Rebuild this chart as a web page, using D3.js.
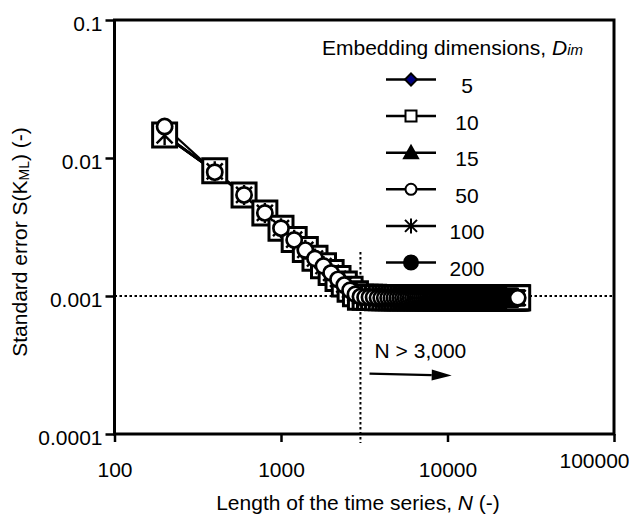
<!DOCTYPE html>
<html>
<head>
<meta charset="utf-8">
<script src="https://cdn.jsdelivr.net/npm/d3@7"></script>
<style>
body { margin: 0; background: #fff; }
svg text { font-family: Arial, "Liberation Sans", sans-serif; fill: #000; }
</style>
</head>
<body>
<svg id="chart" width="629" height="517"></svg>
<script>
// embedding dimensions (legend order)
let dims = ["5", "10", "15", "50", "100", "200"];

// time series lengths, falling part
let headN = [200, 400, 600, 800, 1000, 1200, 1400, 1600, 1800, 2000, 2200, 2400, 2600, 2800, 3000];

// standard error per dimension on the falling part
let s5   = [0.0146, 0.0080, 0.0054, 0.0040, 0.0031, 0.00256, 0.00216, 0.00187, 0.00165, 0.00147, 0.00133, 0.00121, 0.00111, 0.00104, 0.00099];
let s10  = [0.0147, 0.0081, 0.0054, 0.0040, 0.0031, 0.00257, 0.00217, 0.00188, 0.00166, 0.00148, 0.00134, 0.00122, 0.00112, 0.00104, 0.00098];
let s15  = [0.0145, 0.0080, 0.0053, 0.0040, 0.0031, 0.00255, 0.00216, 0.00187, 0.00165, 0.00147, 0.00133, 0.00121, 0.00111, 0.00103, 0.00099];
let s50  = [0.0169, 0.0079, 0.0054, 0.0040, 0.0031, 0.00255, 0.00215, 0.00187, 0.00165, 0.00147, 0.00132, 0.00120, 0.00110, 0.00103, 0.00099];
let s100 = [0.0146, 0.0080, 0.0054, 0.0040, 0.0031, 0.00256, 0.00216, 0.00187, 0.00165, 0.00147, 0.00133, 0.00121, 0.00111, 0.00104, 0.00099];
let s200 = [0.0148, 0.0080, 0.0054, 0.0040, 0.0031, 0.00256, 0.00216, 0.00188, 0.00166, 0.00147, 0.00133, 0.00121, 0.00111, 0.00104, 0.00099];

// plateau part (N > 3,000), same for every dimension
let tailN = [
    3200, 3400, 3600, 3800, 4000, 4200, 4400, 4600, 4800, 5000,
    5200, 5400, 5600, 5800, 6000, 6200, 6400, 6600, 6800, 7000,
    7200, 7400, 7600, 7800, 8000, 8200, 8400, 8600, 8800, 9000,
    9200, 9400, 9600, 9800, 10000, 10200, 10400, 10600, 10800, 11000,
    11200, 11400, 11600, 11800, 12000, 12200, 12400, 12600, 12800, 13000,
    13200, 13400, 13600, 13800, 14000, 14200, 14400, 14600, 14800, 15000,
    15200, 15400, 15600, 15800, 16000, 16200, 16400, 16600, 16800, 17000,
    17200, 17400, 17600, 17800, 18000, 18200, 18400, 18600, 18800, 19000,
    19200, 19400, 19600, 19800, 20000, 20200, 20400, 20600, 20800, 21000,
    21200, 21400, 21600, 21800, 22000, 22200, 22400, 22600, 22800, 23000,
    23200, 23400, 23600, 23800, 24000, 24200, 24400, 24600, 24800, 25000,
    25200, 25400, 25600, 25800, 26000, 26200, 26400
];
let tailS = [
    0.00098, 0.00098, 0.00098, 0.00097, 0.00097, 0.00097, 0.00097, 0.00097, 0.00097, 0.00097,
    0.00097, 0.00097, 0.00097, 0.00097, 0.00097, 0.00097, 0.00097, 0.00097, 0.00097, 0.00097,
    0.00097, 0.00097, 0.00097, 0.00097, 0.00097, 0.00097, 0.00097, 0.00097, 0.00097, 0.00097,
    0.00097, 0.00097, 0.00097, 0.00097, 0.00097, 0.00097, 0.00097, 0.00097, 0.00097, 0.00097,
    0.00097, 0.00097, 0.00097, 0.00097, 0.00097, 0.00097, 0.00097, 0.00097, 0.00097, 0.00097,
    0.00097, 0.00097, 0.00097, 0.00097, 0.00097, 0.00097, 0.00097, 0.00097, 0.00097, 0.00097,
    0.00097, 0.00097, 0.00097, 0.00097, 0.00097, 0.00097, 0.00097, 0.00097, 0.00097, 0.00097,
    0.00097, 0.00097, 0.00097, 0.00097, 0.00097, 0.00097, 0.00097, 0.00097, 0.00097, 0.00097,
    0.00097, 0.00097, 0.00097, 0.00097, 0.00097, 0.00097, 0.00097, 0.00097, 0.00097, 0.00097,
    0.00097, 0.00097, 0.00097, 0.00097, 0.00097, 0.00097, 0.00097, 0.00097, 0.00097, 0.00097,
    0.00097, 0.00097, 0.00097, 0.00097, 0.00097, 0.00097, 0.00097, 0.00097, 0.00097, 0.00097,
    0.00097, 0.00097, 0.00097, 0.00097, 0.00097, 0.00097, 0.00097
];

let xTicks = [100, 1000, 10000, 100000];
let yTicks = [0.0001, 0.001, 0.01, 0.1];

let allN = headN.concat(tailN);
let heads = { "5": s5, "10": s10, "15": s15, "50": s50, "100": s100, "200": s200 };

let series = dims.map(dim => ({
    dim: dim,
    points: heads[dim].concat(tailS).map((s, i) => ({ n: allN[i], s: s }))
}));

// marker look per dimension: plot size, legend size, stroke
let markers = {
    "5":   { shape: "diamond",  fill: "#000080", size: 9,   legend: 6,   sw: 2 },
    "10":  { shape: "square",   fill: "#fff",    size: 12,  legend: 5.5, sw: 3 },
    "15":  { shape: "triangle", fill: "#000",    size: 10,  legend: 7,   sw: 2 },
    "50":  { shape: "circle",   fill: "#fff",    size: 7.6, legend: 5.5, sw: 2.7 },
    "100": { shape: "star",     fill: "none",    size: 8,   legend: 6,   sw: 2.4 },
    "200": { shape: "circle",   fill: "#000",    size: 7.6, legend: 7,   sw: 2 }
};
// order in which marker sets are stacked (last on top)
let drawOrder = ["5", "15", "200", "10", "100", "50"];

let shapePath = (shape, s) => {
    if (shape === "square") return `M${-s},${-s}h${2 * s}v${2 * s}h${-2 * s}Z`;
    if (shape === "diamond") return `M0,${-s}L${s},0L0,${s}L${-s},0Z`;
    if (shape === "triangle") return `M0,${-s}L${s},${s * 0.8}L${-s},${s * 0.8}Z`;
    if (shape === "star") return `M${-s},${-s}L${s},${s}M${s},${-s}L${-s},${s}M0,${-s * 1.25}V${s * 1.25}`;
    // circle
    return `M${-s},0A${s},${s} 0 1,0 ${s},0A${s},${s} 0 1,0 ${-s},0Z`;
};

let svg = d3.select("#chart");

let x = d3.scaleLog().domain([100, 100000]).range([114.5, 614]);
let y = d3.scaleLog().domain([0.0001, 0.1]).range([434, 20]);

// axes
let xAxis = svg.append("g")
    .attr("transform", "translate(0,434)")
    .call(d3.axisBottom(x).tickValues(xTicks).tickFormat(d3.format("d"))
        .tickSizeInner(8).tickSizeOuter(0).tickPadding(20));

let yAxis = svg.append("g")
    .attr("transform", "translate(114.5,0)")
    .call(d3.axisLeft(y).tickValues(yTicks).tickFormat(d => String(d))
        .tickSizeInner(9).tickSizeOuter(0).tickPadding(3));

[xAxis, yAxis].forEach(g => {
    g.attr("font-size", 21).attr("font-family", null);
    g.select(".domain").remove();
    g.selectAll(".tick line").attr("stroke", "#000").attr("stroke-width", 2.5);
    g.selectAll(".tick text").attr("fill", "#000");
});
yAxis.selectAll(".tick text").attr("dy", "0.5em");
// last x label is pushed inside the picture, as in the original
xAxis.selectAll(".tick text").filter(d => d === 100000)
    .attr("x", -20).attr("y", 19);

// guide lines at N = 3,000 and S = 0.001
svg.append("line")
    .attr("x1", x(100)).attr("x2", x(100000))
    .attr("y1", y(0.001)).attr("y2", y(0.001))
    .attr("stroke", "#000").attr("stroke-width", 2)
    .attr("stroke-dasharray", "2.5,2.5");
svg.append("line")
    .attr("x1", x(3000)).attr("x2", x(3000))
    .attr("y1", y(0.00208)).attr("y2", 443)
    .attr("stroke", "#000").attr("stroke-width", 2)
    .attr("stroke-dasharray", "2.5,2.5");

// plot frame
svg.append("rect")
    .attr("x", 114.5).attr("y", 20)
    .attr("width", 614 - 114.5).attr("height", 434 - 20)
    .attr("fill", "none").attr("stroke", "#000").attr("stroke-width", 3);

// series lines
let line = d3.line().x(d => x(d.n)).y(d => y(d.s));
svg.append("g").selectAll("path")
    .data(series)
    .enter()
    .append("path")
    .attr("d", d => line(d.points))
    .attr("fill", "none")
    .attr("stroke", "#000")
    .attr("stroke-width", 2.2);

// markers
drawOrder.forEach(dim => {
    let m = markers[dim];
    let ser = series.find(d => d.dim === dim);
    svg.append("g").selectAll("path")
        .data(ser.points)
        .enter()
        .append("path")
        .attr("transform", d => `translate(${x(d.n)},${y(d.s)})`)
        .attr("d", shapePath(m.shape, m.size))
        .attr("fill", m.fill)
        .attr("stroke", "#000")
        .attr("stroke-width", m.sw);
});

// legend
let legend = svg.append("g");
legend.append("text")
    .attr("x", 322).attr("y", 55)
    .attr("font-size", 21)
    .call(t => {
        t.append("tspan").text("Embedding dimensions, ");
        t.append("tspan").attr("font-style", "italic").text("D");
        t.append("tspan").attr("font-style", "italic").attr("font-size", 15).text("im");
    });

let rowY = d3.scalePoint().domain(dims).range([79.5, 262.5]);
let rows = legend.selectAll(".row")
    .data(dims)
    .enter()
    .append("g")
    .attr("class", "row")
    .attr("transform", d => `translate(0,${rowY(d)})`);
rows.append("line")
    .attr("x1", 386).attr("x2", 436)
    .attr("stroke", "#000").attr("stroke-width", 2.5);
rows.append("path")
    .attr("transform", "translate(411,0)")
    .attr("d", d => shapePath(markers[d].shape, markers[d].legend))
    .attr("fill", d => markers[d].fill)
    .attr("stroke", "#000")
    .attr("stroke-width", 2);
rows.append("text")
    .attr("x", 467).attr("y", 13.5)
    .attr("text-anchor", "middle")
    .attr("font-size", 21)
    .text(d => d);

// N > 3,000 note with arrow
svg.append("text")
    .attr("x", x(3650)).attr("y", y(0.000354))
    .attr("font-size", 21)
    .text("N > 3,000");

let a0 = [x(3400), y(0.000274)];
let a1 = [x(10600), y(0.000265)];
let ang = Math.atan2(a1[1] - a0[1], a1[0] - a0[0]);
let headLen = 20, headW = 5.5;
let base = [a1[0] - headLen * Math.cos(ang), a1[1] - headLen * Math.sin(ang)];
svg.append("line")
    .attr("x1", a0[0]).attr("y1", a0[1])
    .attr("x2", base[0]).attr("y2", base[1])
    .attr("stroke", "#000").attr("stroke-width", 2.2);
svg.append("path")
    .attr("d", `M${a1[0]},${a1[1]}` +
        `L${base[0] + headW * Math.sin(ang)},${base[1] - headW * Math.cos(ang)}` +
        `L${base[0] - headW * Math.sin(ang)},${base[1] + headW * Math.cos(ang)}Z`)
    .attr("fill", "#000");

// axis titles
svg.append("text")
    .attr("x", 358).attr("y", 510)
    .attr("text-anchor", "middle")
    .attr("font-size", 21)
    .call(t => {
        t.append("tspan").text("Length of the time series, ");
        t.append("tspan").attr("font-style", "italic").text("N");
        t.append("tspan").text(" (-)");
    });

svg.append("text")
    .attr("transform", "translate(27,242) rotate(-90)")
    .attr("text-anchor", "middle")
    .attr("font-size", 21)
    .call(t => {
        t.append("tspan").text("Standard error S(K");
        t.append("tspan").attr("font-size", 14).attr("dy", 2).text("ML");
        t.append("tspan").attr("dy", -2).text(") (-)");
    });
</script>
</body>
</html>
